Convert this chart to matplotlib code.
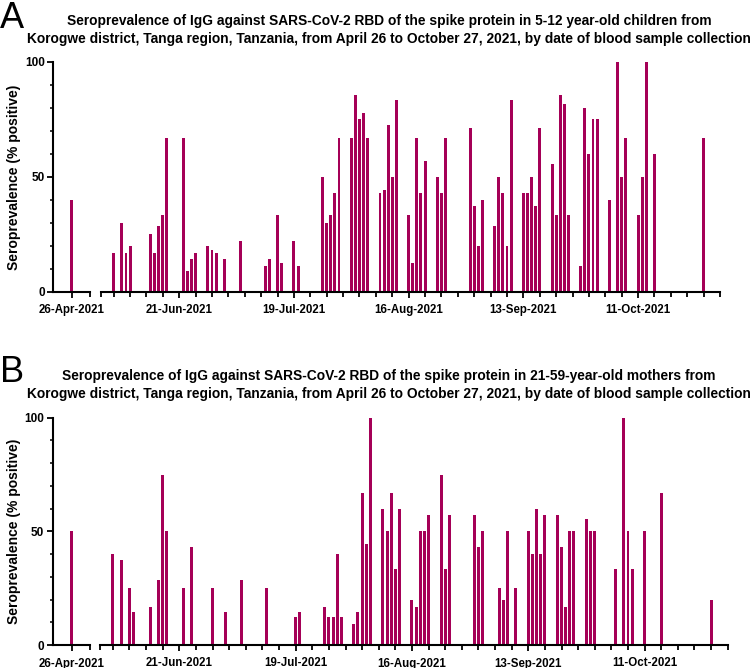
import pandas as pd
import matplotlib
matplotlib.use("Agg")
import matplotlib.pyplot as plt
import matplotlib.dates as mdates
from matplotlib.ticker import FixedLocator, MultipleLocator

plt.rcParams["font.family"] = ["Liberation Sans", "DejaVu Sans"]

# --- data (% positive by sampling date) ---
children_dates = [
    "2021-04-26", "2021-06-05", "2021-06-07", "2021-06-08", "2021-06-09",
    "2021-06-14", "2021-06-15", "2021-06-16", "2021-06-17", "2021-06-18",
    "2021-06-22", "2021-06-23", "2021-06-24", "2021-06-25", "2021-06-28",
    "2021-06-29", "2021-06-30", "2021-07-02", "2021-07-06", "2021-07-12",
    "2021-07-13", "2021-07-15", "2021-07-16", "2021-07-19", "2021-07-20",
    "2021-07-26", "2021-07-27", "2021-07-28", "2021-07-29", "2021-07-30",
    "2021-08-02", "2021-08-03", "2021-08-04", "2021-08-05", "2021-08-06",
    "2021-08-09", "2021-08-10", "2021-08-11", "2021-08-12", "2021-08-13",
    "2021-08-16", "2021-08-17", "2021-08-18", "2021-08-19", "2021-08-20",
    "2021-08-23", "2021-08-24", "2021-08-25", "2021-08-31", "2021-09-01",
    "2021-09-02", "2021-09-03", "2021-09-06", "2021-09-07", "2021-09-08",
    "2021-09-09", "2021-09-10", "2021-09-13", "2021-09-14", "2021-09-15",
    "2021-09-16", "2021-09-17", "2021-09-20", "2021-09-21", "2021-09-22",
    "2021-09-23", "2021-09-24", "2021-09-27", "2021-09-28", "2021-09-29",
    "2021-09-30", "2021-10-01", "2021-10-04", "2021-10-06", "2021-10-07",
    "2021-10-08", "2021-10-11", "2021-10-12", "2021-10-13", "2021-10-15",
    "2021-10-27",
]
children_pct = [
    40, 16.7, 30, 16.7, 20,
    25, 16.7, 28.6, 33.3, 66.7,
    66.7, 9.1, 14.3, 16.7, 20,
    18.2, 16.7, 14.3, 22.2, 11.1,
    14.3, 33.3, 12.5, 22.2, 11.1,
    50, 30, 33.3, 42.9, 66.7,
    66.7, 85.7, 75, 77.8, 66.7,
    42.9, 44.4, 72.7, 50, 83.3,
    33.3, 12.5, 66.7, 42.9, 57.1,
    50, 42.9, 66.7, 71.4, 37.5,
    20, 40, 28.6, 50, 42.9,
    20, 83.3, 42.9, 42.9, 50,
    37.5, 71.4, 55.6, 33.3, 85.7,
    81.8, 33.3, 11.1, 80, 60,
    75, 75, 40, 100, 50,
    66.7, 33.3, 50, 100, 60,
    66.7,
]

mothers_dates = [
    "2021-04-26", "2021-06-05", "2021-06-07", "2021-06-09", "2021-06-10",
    "2021-06-14", "2021-06-16", "2021-06-17", "2021-06-18", "2021-06-22",
    "2021-06-24", "2021-06-29", "2021-07-02", "2021-07-06", "2021-07-12",
    "2021-07-19", "2021-07-20", "2021-07-26", "2021-07-27", "2021-07-28",
    "2021-07-29", "2021-07-30", "2021-08-02", "2021-08-03", "2021-08-04",
    "2021-08-05", "2021-08-06", "2021-08-09", "2021-08-10", "2021-08-11",
    "2021-08-12", "2021-08-13", "2021-08-16", "2021-08-17", "2021-08-18",
    "2021-08-19", "2021-08-20", "2021-08-23", "2021-08-24", "2021-08-25",
    "2021-08-31", "2021-09-01", "2021-09-02", "2021-09-06", "2021-09-07",
    "2021-09-08", "2021-09-10", "2021-09-13", "2021-09-14", "2021-09-15",
    "2021-09-16", "2021-09-17", "2021-09-20", "2021-09-21", "2021-09-22",
    "2021-09-23", "2021-09-24", "2021-09-27", "2021-09-28", "2021-09-29",
    "2021-10-04", "2021-10-06", "2021-10-07", "2021-10-08", "2021-10-11",
    "2021-10-15", "2021-10-27",
]
mothers_pct = [
    50, 40, 37.5, 25, 14.3,
    16.7, 28.6, 75, 50, 25,
    42.9, 25, 14.3, 28.6, 25,
    12.5, 14.3, 16.7, 12.5, 12.5,
    40, 12.5, 9.1, 14.3, 66.7,
    44.4, 100, 60, 50, 66.7,
    33.3, 60, 20, 16.7, 50,
    50, 57.1, 75, 33.3, 57.1,
    57.1, 42.9, 50, 25, 20,
    50, 25, 50, 40, 60,
    40, 57.1, 57.1, 42.9, 16.7,
    50, 50, 55.6, 50, 50,
    33.3, 100, 50, 33.3, 50,
    66.7, 20,
]

labelled_dates = ["2021-06-21", "2021-07-19", "2021-08-16", "2021-09-13", "2021-10-11"]

title_a = ("Seroprevalence of IgG against SARS-CoV-2 RBD of the spike protein in 5-12 year-old children from\n"
           "Korogwe district, Tanga region, Tanzania, from April 26 to October 27, 2021, by date of blood sample collection")
title_b = ("Seroprevalence of IgG against SARS-CoV-2 RBD of the spike protein in 21-59-year-old mothers from\n"
           "Korogwe district, Tanga region, Tanzania, from April 26 to October 27, 2021, by date of blood sample collection")

BAR = "#A50057"
W, H = 755, 668
fig = plt.figure(figsize=(W / 100, H / 100), dpi=100)


def box(x0, x1, y_top, y_bot):
    return [x0 / W, 1 - y_bot / H, (x1 - x0) / W, (y_bot - y_top) / H]


def style(ax):
    ax.set_ylim(0, 100)
    ax.spines[["top", "right"]].set_visible(False)
    for s in ("left", "bottom"):
        ax.spines[s].set_linewidth(1.5)
    ax.tick_params(axis="x", which="major", direction="out", length=4, width=1.3,
                   labelsize=8.3, pad=5)
    ax.tick_params(axis="x", which="minor", direction="out", length=3.5, width=1.3)
    for lab in ax.get_xticklabels():
        lab.set_fontweight("bold")


def panel(dates, pct, y_top, y_bot, x0, x_gap, x_start, x_end, letter, title, letter_y, title_y):
    d = pd.to_datetime(dates)
    day = pd.Timedelta(days=1)

    # first (short) segment around 26-Apr
    ax1 = fig.add_axes(box(x0, x_gap, y_top, y_bot))
    ax1.bar(d, pct, width=0.72, color=BAR, linewidth=0)
    ax1.set_xlim(pd.Timestamp("2021-04-26") - 4.5 * day, pd.Timestamp("2021-04-30") + 0.3 * day)
    ax1.xaxis.set_major_locator(FixedLocator(mdates.date2num(pd.to_datetime(["2021-04-26"]))))
    ax1.xaxis.set_minor_locator(FixedLocator(mdates.date2num(pd.to_datetime(["2021-04-30"]) + 0.3 * day)))
    ax1.xaxis.set_major_formatter(mdates.DateFormatter("%d-%b-%Y"))
    ax1.yaxis.set_major_locator(FixedLocator([0, 50, 100]))
    ax1.yaxis.set_minor_locator(MultipleLocator(10))
    ax1.tick_params(axis="y", which="major", direction="out", length=4, width=1.3,
                    labelsize=8.5, pad=2)
    ax1.tick_params(axis="y", which="minor", direction="out", length=2.5, width=1.1)
    for lab in ax1.get_yticklabels():
        lab.set_fontweight("bold")
    style(ax1)

    # main segment, June to October
    ax2 = fig.add_axes(box(x_start, x_end, y_top, y_bot))
    ax2.bar(d, pct, width=0.72, color=BAR, linewidth=0)
    left = pd.Timestamp("2021-06-02") - 0.1 * day
    ax2.set_xlim(left, pd.Timestamp("2021-10-31"))
    minor = list(pd.date_range("2021-06-05", "2021-10-31", freq="4D")) + [left]
    ax2.xaxis.set_major_locator(FixedLocator(mdates.date2num(pd.to_datetime(labelled_dates))))
    ax2.xaxis.set_minor_locator(FixedLocator(mdates.date2num(pd.to_datetime(minor))))
    ax2.xaxis.set_major_formatter(mdates.DateFormatter("%d-%b-%Y"))
    ax2.spines["left"].set_visible(False)
    ax2.set_yticks([])
    style(ax2)

    fig.text(14 / W, 1 - (y_top + y_bot) / 2 / H, "Seroprevalence (% positive)", rotation=90,
             ha="center", va="center", fontsize=10, fontweight="bold")
    fig.text(0, 1 - letter_y / H, letter, ha="left", va="top", fontsize=26)
    fig.text(389 / W, 1 - title_y / H, title, ha="center", va="center", fontsize=9.9,
             fontweight="bold", linespacing=1.3)


panel(children_dates, children_pct, 62, 291.7, 53.3, 89.5, 101, 720, "A", title_a, 1, 30)
panel(mothers_dates, mothers_pct, 417.7, 645, 52.7, 89.7, 100, 727.7, "B", title_b, 355, 385)

fig.savefig("out.png", dpi=100)
